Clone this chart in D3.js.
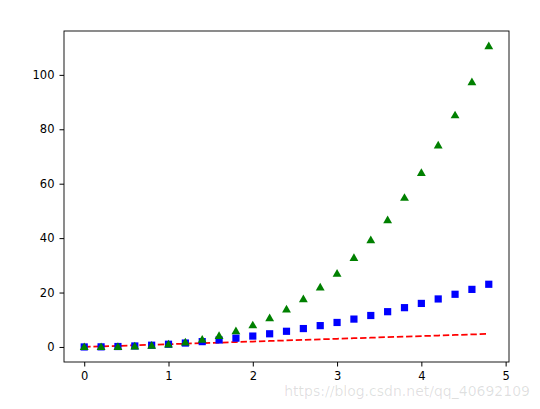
<!DOCTYPE html>
<html>
<head>
<meta charset="utf-8">
<script src="https://cdn.jsdelivr.net/npm/d3@7"></script>
<style>
  body { margin: 0; background: #fff; }
  svg text { font-family: "DejaVu Sans", sans-serif; }
</style>
</head>
<body>
<div id="chart"></div>
<script>
// data
const tValues = [0, 0.2, 0.4, 0.6, 0.8, 1, 1.2, 1.4, 1.6, 1.8, 2, 2.2, 2.4, 2.6, 2.8, 3, 3.2, 3.4, 3.6, 3.8, 4, 4.2, 4.4, 4.6, 4.8]
const squareValues = [0, 0.04, 0.16, 0.36, 0.64, 1, 1.44, 1.96, 2.56, 3.24, 4, 4.84, 5.76, 6.76, 7.84, 9, 10.24, 11.56, 12.96, 14.44, 16, 17.64, 19.36, 21.16, 23.04]
const cubeValues = [0, 0.008, 0.064, 0.216, 0.512, 1, 1.728, 2.744, 4.096, 5.832, 8, 10.648, 13.824, 17.576, 21.952, 27, 32.768, 39.304, 46.656, 54.872, 64, 74.088, 85.184, 97.336, 110.592]
const xTicks = [0, 1, 2, 3, 4, 5]
const yTicks = [0, 20, 40, 60, 80, 100]
const watermark = "https://blog.csdn.net/qq_40692109"

const size = [540, 409]
const margin = ({top: 31, right: 31, bottom: 47, left: 64})

const svg = d3.create("svg")
  .attr("width", size[0])
  .attr("height", size[1])

const scaleX = d3.scaleLinear()
  .domain([-0.24, 5.04])
  .range([margin.left, size[0] - margin.right])

const scaleY = d3.scaleLinear()
  .domain([-5.53, 116.12])
  .range([size[1] - margin.bottom, margin.top])

const xAxis = g => g
  .attr("transform", `translate(0,${size[1] - margin.bottom})`)
  .call(d3.axisBottom(scaleX).tickValues(xTicks).tickFormat(d3.format("d"))
    .tickSizeOuter(0).tickSize(4.5).tickPadding(5))

const yAxis = g => g
  .attr("transform", `translate(${margin.left},0)`)
  .call(d3.axisLeft(scaleY).tickValues(yTicks).tickFormat(d3.format("d"))
    .tickSizeOuter(0).tickSize(4.5).tickPadding(5))

svg.append("g").call(xAxis)
svg.append("g").call(yAxis)
svg.selectAll(".tick text")
  .attr("font-size", 11.5)
  .attr("font-family", "DejaVu Sans, sans-serif")
  .attr("fill", "#000")
svg.selectAll(".domain").remove()

// frame
svg.append("rect")
  .attr("x", margin.left)
  .attr("y", margin.top)
  .attr("width", size[0] - margin.right - margin.left)
  .attr("height", size[1] - margin.bottom - margin.top)
  .attr("fill", "none")
  .attr("stroke", "#000")
  .attr("stroke-width", 0.9)

const pts = tValues.map((t, i) => ({t, sq: squareValues[i], cu: cubeValues[i]}))

// red dashed line y = t
svg.append("path")
  .datum(pts)
  .attr("fill", "none")
  .attr("stroke", "red")
  .attr("stroke-width", 1.75)
  .attr("stroke-dasharray", "6.4,2.8")
  .attr("d", d3.line().x(d => scaleX(d.t)).y(d => scaleY(d.t)))

// blue squares
svg.append("g")
  .selectAll("rect")
  .data(pts)
  .join("rect")
    .attr("x", d => scaleX(d.t) - 3.6)
    .attr("y", d => scaleY(d.sq) - 3.6)
    .attr("width", 7.2)
    .attr("height", 7.2)
    .attr("fill", "blue")

// green triangles
const tri = d3.symbol().type(d3.symbolTriangle).size(34)
svg.append("g")
  .selectAll("path")
  .data(pts)
  .join("path")
    .attr("transform", d => `translate(${scaleX(d.t)},${scaleY(d.cu) + 0.6})`)
    .attr("d", tri)
    .attr("fill", "green")

svg.append("text")
  .attr("x", 530)
  .attr("y", 396)
  .attr("text-anchor", "end")
  .attr("font-family", "Liberation Sans, Arial, sans-serif")
  .attr("font-size", 14)
  .attr("fill", "#000")
  .attr("fill-opacity", 0.13)
  .text(watermark)

d3.select("#chart").append(() => svg.node())
</script>
</body>
</html>
